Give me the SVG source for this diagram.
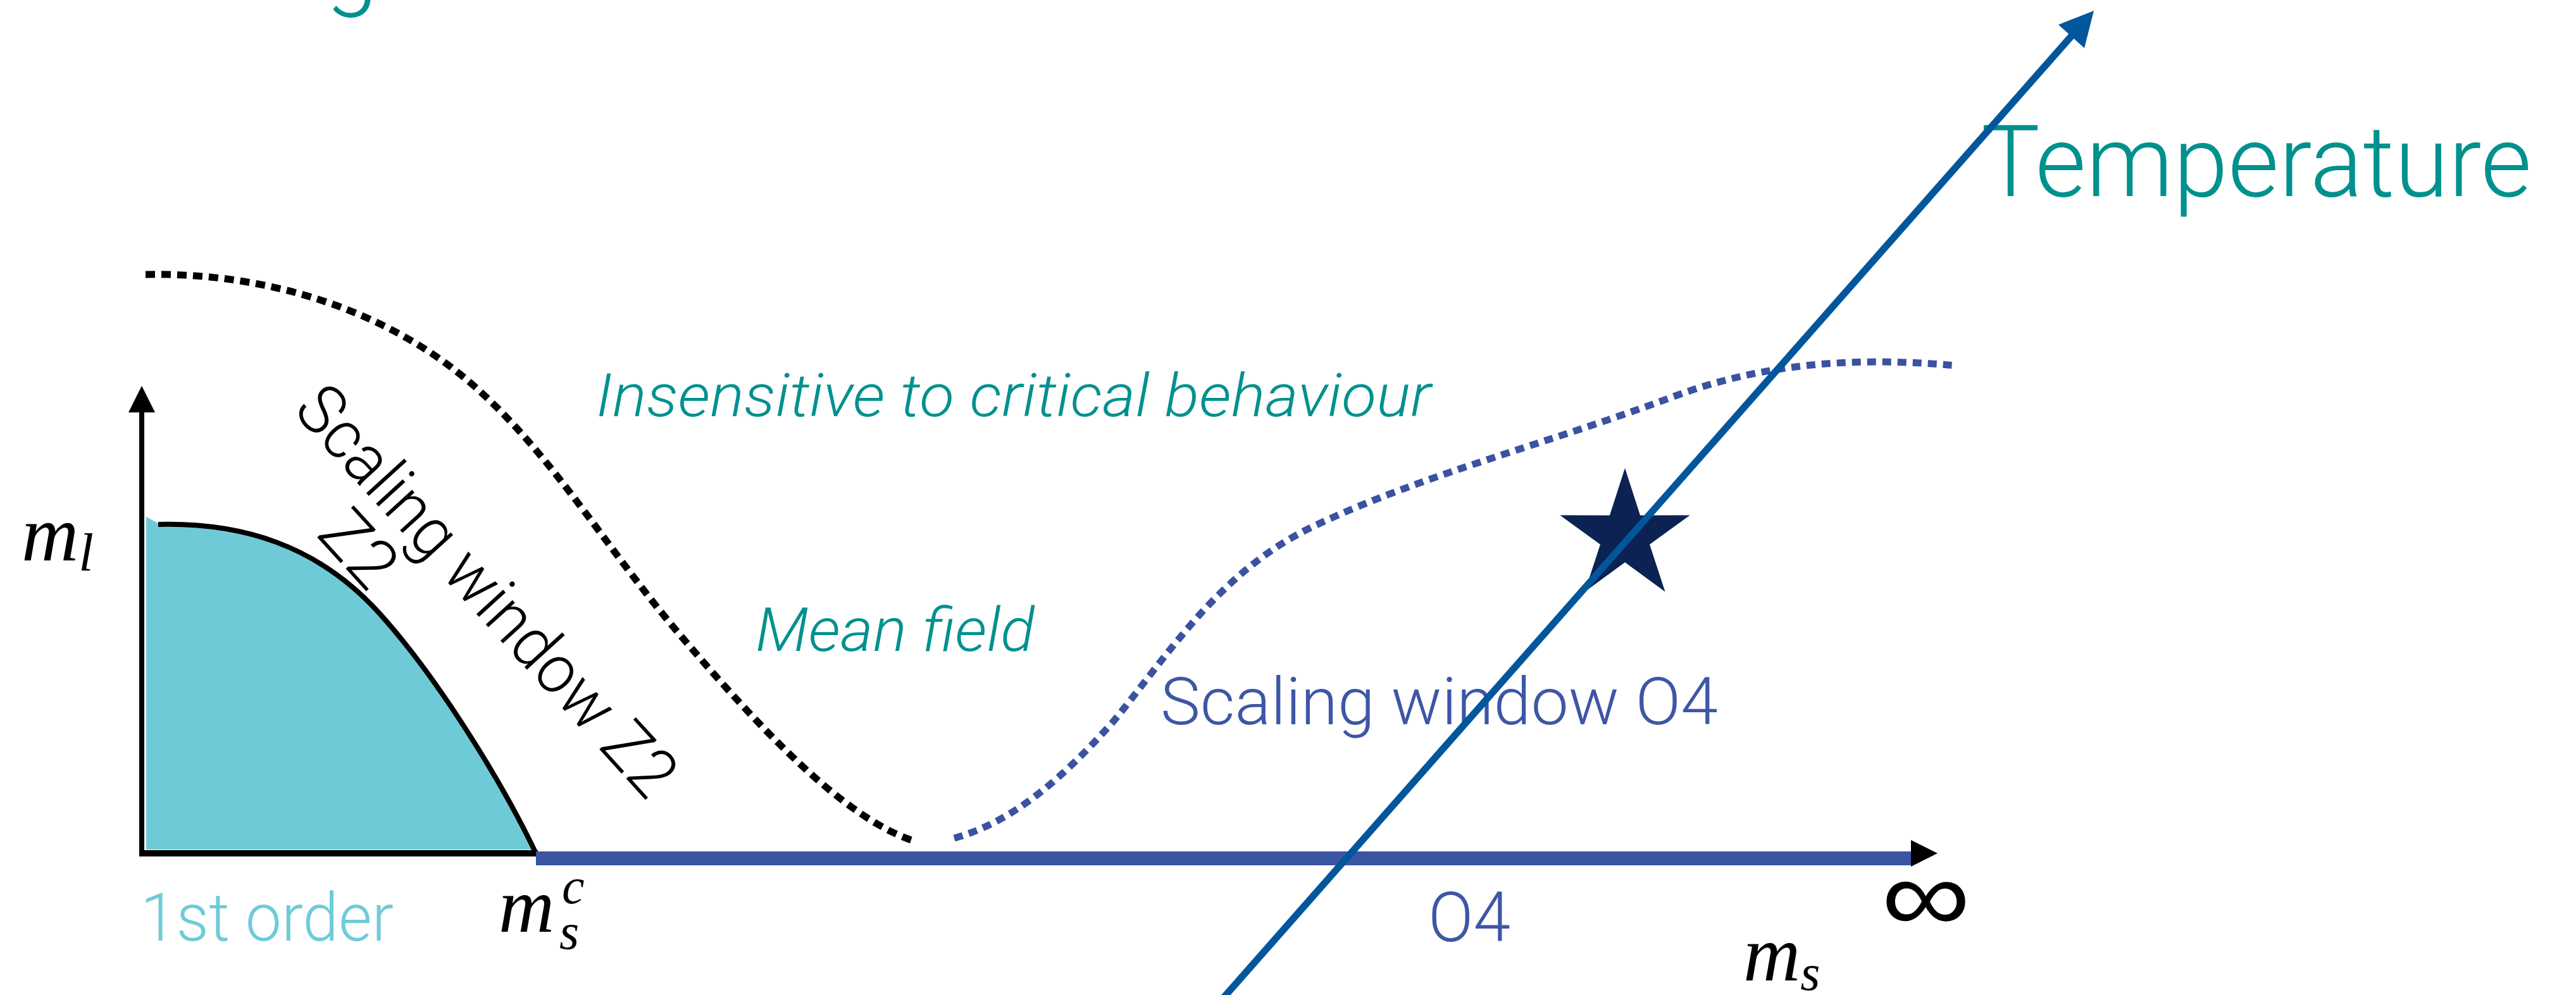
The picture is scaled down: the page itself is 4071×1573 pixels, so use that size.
<svg xmlns="http://www.w3.org/2000/svg" width="4071" height="1573" viewBox="0 0 4071 1573">
<defs>
<style>
.lbl{font-family:Roboto,'Liberation Sans',Arial,sans-serif;font-weight:300}
.teal{fill:#00918e}
.blue{fill:#3d56a6}
.math{font-family:'Liberation Serif','Times New Roman',serif;font-style:italic;fill:#000}
.dk{fill:none;stroke:#000;stroke-width:11;stroke-dasharray:15 10}
.db{fill:none;stroke:#3b52a0;stroke-width:11;stroke-dasharray:14 10}
</style>
</defs>
<rect width="4071" height="1573" fill="#fff"/>

<g id="title-fragment"><text class="lbl teal" x="514" y="-4" font-size="150">g</text></g>

<g id="first-order-region">
<path d="M231,817 L253,829 C380,826 501,860 600,970 C690,1070 790,1230 844,1343 L231,1343 Z" fill="#6fcad8"/>
<path d="M250,829 C380,826 501,860 600,970 C690,1070 790,1230 846,1347" fill="none" stroke="#000" stroke-width="8"/>
</g>

<g id="axes">
<line x1="224" y1="1351" x2="224" y2="645" stroke="#000" stroke-width="8"/>
<polygon points="224,610 203,652 245,652" fill="#000"/>
<line x1="220" y1="1349" x2="850" y2="1349" stroke="#000" stroke-width="10"/>
<rect x="847" y="1346" width="2178" height="22" fill="#3b55a3"/>
<polygon points="3062,1349 3020,1328 3020,1370" fill="#000"/>
</g>

<g id="boundary-curves">
<path class="dk" d="M230,434 C420,430 620,490 760,620 C880,730 960,870 1080,1010 C1200,1150 1330,1290 1440,1328"/>
<path class="db" d="M1508,1325 C1600,1300 1680,1230 1760,1140 C1850,1030 1930,900 2080,830 C2250,750 2450,700 2650,625 C2800,570 2950,565 3090,578"/>
</g>

<g id="labels">
<text class="lbl teal" x="942" y="658" font-size="95" font-style="italic" textLength="1320" lengthAdjust="spacingAndGlyphs">Insensitive to critical behaviour</text>
<text class="lbl teal" x="1194" y="1029" font-size="97" font-style="italic" textLength="441" lengthAdjust="spacingAndGlyphs">Mean field</text>
<text class="lbl blue" x="1834" y="1145" font-size="103" textLength="881" lengthAdjust="spacingAndGlyphs">Scaling window O4</text>
<text class="lbl blue" x="2257" y="1488" font-size="110" textLength="130" lengthAdjust="spacingAndGlyphs">O4</text>
<text class="lbl" x="222" y="1487" font-size="105" fill="#6fcbd8" textLength="400" lengthAdjust="spacingAndGlyphs">1st order</text>
<text class="lbl teal" x="3131" y="310" font-size="157" textLength="870" lengthAdjust="spacingAndGlyphs">Temperature</text>
<text class="lbl" transform="translate(461,650) rotate(47.7)" font-size="108" fill="#000" textLength="835" lengthAdjust="spacingAndGlyphs">Scaling window Z2</text>
<text class="lbl" transform="translate(540,892) rotate(47.7)" font-size="108" fill="#000" text-anchor="middle">Z2</text>
<text class="math" x="34" y="886" font-size="125">m<tspan font-size="85" dy="16">l</tspan></text>
<text class="math" x="788" y="1473" font-size="122">m</text>
<text class="math" x="888" y="1428" font-size="80">c</text>
<text class="math" x="884" y="1500" font-size="80">s</text>
<text class="math" x="2755" y="1550" font-size="125">m<tspan font-size="80" dy="15">s</tspan></text>
<text x="2973" y="1473" font-family="'DejaVu Sans',sans-serif" font-weight="200" font-size="165" fill="#000" textLength="141" lengthAdjust="spacingAndGlyphs">∞</text>
</g>

<g id="critical-point">
<polygon points="2568,740 2592.1,814.8 2670.7,814.6 2607,860.7 2631.5,935.4 2568,889 2504.5,935.4 2529,860.7 2465.3,814.6 2543.9,814.8" fill="#0b2252"/>
</g>

<g id="connectors">
<line x1="1925" y1="1587" x2="3278" y2="52" stroke="#02569b" stroke-width="11"/>
<polygon points="3309,17 3253,39 3294,76" fill="#02569b"/>
</g>
</svg>
